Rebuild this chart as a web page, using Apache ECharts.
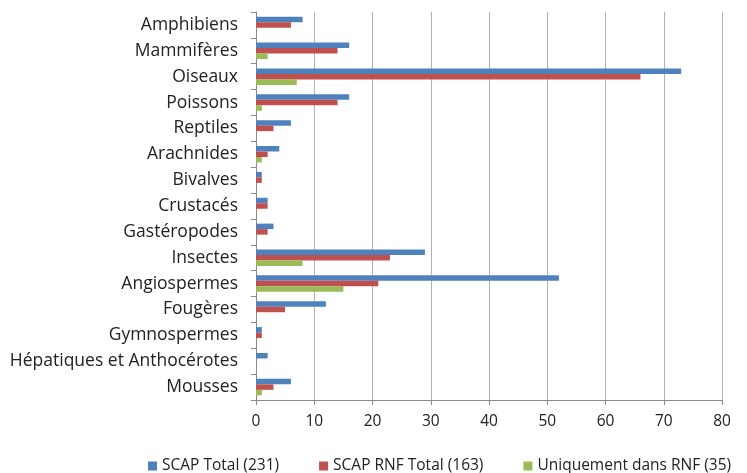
<!DOCTYPE html>
<html><head><meta charset="utf-8">
<script src="https://cdn.jsdelivr.net/npm/echarts@6/dist/echarts.min.js"></script>
<style>html,body{margin:0;padding:0;background:#fff}#c{width:747px;height:473px}</style>
</head><body><div id="c"></div>
<script>
const categories = ["Amphibiens","Mammifères","Oiseaux","Poissons","Reptiles","Arachnides","Bivalves","Crustacés","Gastéropodes","Insectes","Angiospermes","Fougères","Gymnospermes","Hépatiques et Anthocérotes","Mousses"];
const scapTotal = [8,16,73,16,6,4,1,2,3,29,52,12,1,2,6];
const scapRnf = [6,14,66,14,3,2,1,2,2,23,21,5,1,0,3];
const uniqueRnf = [0,2,7,1,0,1,0,0,0,8,15,0,0,0,1];
const seriesNames = ["SCAP Total (231)","SCAP RNF Total (163)","Uniquement dans RNF (35)"];
const colors = ["#4F81BD","#C0504D","#9BBB59"];
const font = "Open Sans";
const chart = echarts.init(document.getElementById('c'));
const mk = (name, data, i) => ({
  name, type:'bar', data, barWidth:5.5, barGap:'0%',
  itemStyle:{color:colors[i]}, emphasis:{disabled:true}
});
chart.setOption({
  animation:false,
  textStyle:{fontFamily:font},
  grid:{left:256,right:25,top:12,bottom:73,containLabel:false},
  legend:{top:453,left:143,itemWidth:9,itemHeight:9,itemGap:40,icon:'rect',
    textStyle:{fontFamily:font,fontSize:15.5,color:'#222'}, data:seriesNames},
  xAxis:{type:'value',min:0,max:80,interval:10,
    axisLine:{show:true,lineStyle:{color:'#8a8a8a'}},
    axisTick:{show:true,length:5,lineStyle:{color:'#8a8a8a'}},
    axisLabel:{fontFamily:font,fontSize:15.5,color:'#222',margin:14},
    splitLine:{show:true,lineStyle:{color:'#b3b3b3',width:1}}},
  yAxis:{type:'category',data:categories,inverse:true,
    axisLine:{show:true,lineStyle:{color:'#8a8a8a'}},
    axisTick:{show:true,length:5,lineStyle:{color:'#8a8a8a'}},
    axisLabel:{fontFamily:font,fontSize:17.5,color:'#222',margin:18}},
  series:[mk(seriesNames[0],scapTotal,0),mk(seriesNames[1],scapRnf,1),mk(seriesNames[2],uniqueRnf,2)]
});
</script></body></html>
